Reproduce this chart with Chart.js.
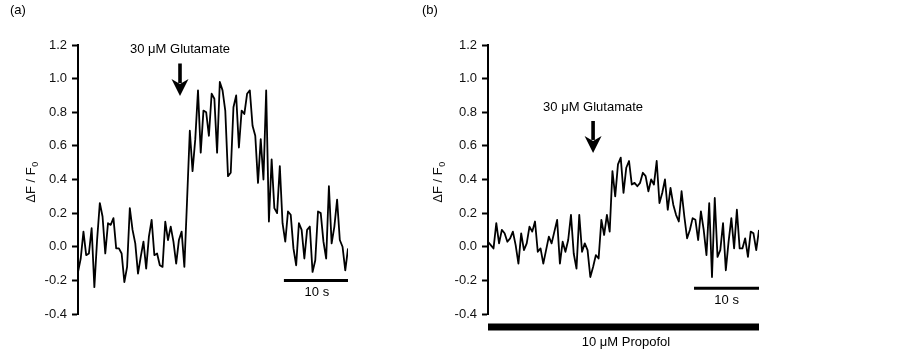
<!DOCTYPE html>
<html>
<head>
<meta charset="utf-8">
<script src="https://cdn.jsdelivr.net/npm/chart.js@4.4.1/dist/chart.umd.min.js"></script>
<style>
  html, body { margin: 0; padding: 0; background: #fff; }
  #wrap { position: relative; width: 903px; height: 354px; }
  canvas { position: absolute; top: 0; }
  #chart-a { left: 0; }
  #chart-b { left: 410px; }
</style>
</head>
<body>
<div id="wrap">
  <canvas id="chart-a" width="400" height="354"></canvas>
  <canvas id="chart-b" width="493" height="354"></canvas>
</div>
<script>
// dF/F0 per frame, control (a)
const traceA = [
  -0.15, -0.07, 0.09, -0.05, -0.04, 0.11, -0.24, 0.04, 0.26, 0.18,
  -0.04, 0.14, 0.13, 0.17, -0.01, -0.01, -0.04, -0.21, -0.12, 0.23,
  0.10, 0.02, -0.16, -0.06, 0.03, -0.13, 0.06, 0.16, -0.05, -0.04,
  -0.11, -0.12, 0.15, 0.04, 0.12, 0.03, -0.10, 0.04, 0.09, -0.12,
  0.28, 0.69, 0.45, 0.64, 0.93, 0.56, 0.81, 0.80, 0.66, 0.91,
  0.88, 0.56, 0.98, 0.93, 0.81, 0.42, 0.44, 0.83, 0.90, 0.59,
  0.81, 0.79, 0.91, 0.93, 0.72, 0.66, 0.38, 0.64, 0.40, 0.93,
  0.15, 0.52, 0.23, 0.20, 0.48, 0.14, 0.03, 0.21, 0.19, -0.01,
  -0.11, 0.14, 0.10, -0.07, 0.10, 0.12, -0.15, -0.08, 0.21, 0.20,
  0.03, -0.07, 0.36, 0.02, 0.12, 0.28, 0.04, 0.00, -0.14, -0.01
];
// dF/F0 per frame, with propofol (b)
const traceB = [
  0.03, 0.01, -0.01, 0.14, 0.02, 0.10, 0.08, 0.03, 0.05, 0.09,
  0.01, -0.10, 0.08, -0.02, 0.02, 0.12, 0.09, 0.15, -0.03, -0.01,
  -0.10, -0.02, 0.06, 0.02, 0.09, 0.16, -0.10, 0.03, -0.03, 0.04,
  0.19, -0.04, -0.13, 0.19, -0.03, 0.02, -0.02, -0.18, -0.12, -0.05,
  -0.07, 0.16, 0.07, 0.19, 0.09, 0.45, 0.30, 0.49, 0.53, 0.32,
  0.47, 0.51, 0.37, 0.38, 0.36, 0.38, 0.44, 0.42, 0.33, 0.40,
  0.37, 0.51, 0.26, 0.32, 0.40, 0.22, 0.35, 0.25, 0.19, 0.15,
  0.33, 0.18, 0.05, 0.10, 0.17, 0.16, 0.04, 0.21, 0.10, -0.05,
  0.26, -0.18, 0.29, -0.06, -0.02, 0.14, -0.14, 0.03, 0.17, -0.01,
  0.22, -0.01, -0.01, 0.05, -0.06, 0.09, 0.08, -0.02, 0.10
];
const yTicks = [-0.4, -0.2, 0.0, 0.2, 0.4, 0.6, 0.8, 1.0, 1.2];

// scale bars and drug bar, in frame index / dF units
const scaleBarA = [{x: 75.5, y: -0.2}, {x: 99, y: -0.2}];
const scaleBarB = [{x: 74.5, y: -0.247}, {x: 98, y: -0.247}];
const propofolBar = [{x: 0, y: -0.478}, {x: 98, y: -0.478}];

const FONT = '"Liberation Sans", Arial, sans-serif';

const annot = {
  id: 'annot',
  afterDraw(chart, args, opts) {
    const {ctx, chartArea, scales: {x, y}} = chart;
    ctx.save();
    ctx.fillStyle = '#000';
    ctx.font = '13px ' + FONT;
    ctx.textBaseline = 'middle';
    ctx.textAlign = 'left';
    ctx.fillText(opts.panel, opts.panelX, 10);
    ctx.textAlign = 'center';
    opts.texts.forEach(t => ctx.fillText(t.text, x.getPixelForValue(t.x), y.getPixelForValue(t.y)));

    // y title  dF / F0 with subscript
    ctx.save();
    ctx.translate(opts.titleX, (chartArea.top + chartArea.bottom) / 2 + 3);
    ctx.rotate(-Math.PI / 2);
    ctx.fillStyle = '#111';
    ctx.textAlign = 'left';
    ctx.textBaseline = 'alphabetic';
    const main = 'ΔF / F';
    ctx.font = '13px ' + FONT;
    const w1 = ctx.measureText(main).width;
    ctx.font = '9px ' + FONT;
    const w2 = ctx.measureText('0').width;
    const x0 = -(w1 + w2) / 2;
    ctx.font = '13px ' + FONT;
    ctx.fillText(main, x0, 4.5);
    ctx.font = '9px ' + FONT;
    ctx.fillText('0', x0 + w1 + 0.5, 7.5);
    ctx.restore();

    // arrow
    const ax = x.getPixelForValue(opts.arrow.x);
    const top = y.getPixelForValue(opts.arrow.top);
    const tip = y.getPixelForValue(opts.arrow.tip);
    const headH = 17, headW = 8.5;
    ctx.fillRect(ax - 1.8, top, 3.6, tip - top - headH + 4);
    ctx.beginPath();
    ctx.moveTo(ax, tip);
    ctx.lineTo(ax - headW, tip - headH);
    ctx.lineTo(ax, tip - headH + 5);
    ctx.lineTo(ax + headW, tip - headH);
    ctx.closePath();
    ctx.fill();
    ctx.restore();
  }
};

function makeChart(canvas, trace, bars, padLeft, axisWidth, padRight, annotOpts) {
  const datasets = [{
    data: trace.map((v, i) => ({x: i, y: v})),
    borderColor: '#000',
    borderWidth: 1.8,
    borderJoinStyle: 'round',
    pointRadius: 0,
    tension: 0
  }];
  bars.forEach(b => datasets.push({
    data: b.data,
    borderColor: '#000',
    borderWidth: b.width,
    pointRadius: 0,
    clip: false
  }));
  return new Chart(canvas.getContext('2d'), {
    type: 'line',
    data: {datasets},
    options: {
      responsive: false,
      animation: false,
      layout: {padding: {left: padLeft, right: padRight, top: 45, bottom: 40}},
      plugins: {legend: {display: false}, tooltip: {enabled: false}, annot: annotOpts},
      scales: {
        x: {type: 'linear', display: false, min: 0, max: trace.length - 1},
        y: {
          min: -0.4,
          max: 1.2,
          afterFit(s) { s.width = axisWidth; },
          afterBuildTicks(s) { s.ticks = yTicks.map(v => ({value: v})); },
          ticks: {
            callback: v => v.toFixed(1),
            color: '#111',
            font: {family: FONT, size: 13},
            padding: 5
          },
          grid: {drawOnChartArea: false, tickLength: 6, tickWidth: 2, color: '#000'},
          border: {color: '#000', width: 2}
        }
      }
    },
    plugins: [annot]
  });
}

makeChart(document.querySelector('#chart-a'), traceA,
  [{data: scaleBarA, width: 3}],
  19, 59, 52,
  {
    panel: '(a)', panelX: 10, titleX: 30,
    texts: [
      {text: '30 μM Glutamate', x: 37.4, y: 1.175},
      {text: '10 s', x: 87.6, y: -0.27}
    ],
    arrow: {x: 37.4, top: 1.09, tip: 0.896}
  });

makeChart(document.querySelector('#chart-b'), traceB,
  [{data: scaleBarB, width: 3}, {data: propofolBar, width: 7}],
  16, 62, 144,
  {
    panel: '(b)', panelX: 12, titleX: 27,
    texts: [
      {text: '30 μM Glutamate', x: 38.0, y: 0.83},
      {text: '10 s', x: 86.3, y: -0.318},
      {text: '10 μM Propofol', x: 49.9, y: -0.567}
    ],
    arrow: {x: 38.0, top: 0.748, tip: 0.558}
  });
</script>
</body>
</html>
